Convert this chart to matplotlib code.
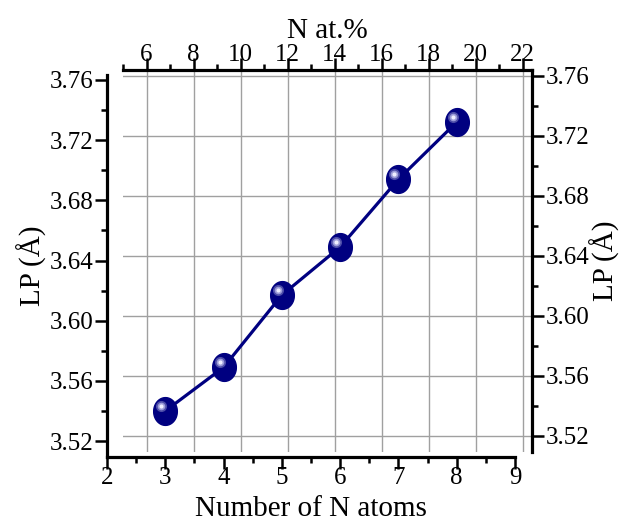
import numpy as np
import matplotlib
matplotlib.use('Agg')
import matplotlib.pyplot as plt
from matplotlib.path import Path
from matplotlib.ticker import MultipleLocator
from matplotlib.transforms import offset_copy

# data
n_atoms = [3, 4, 5, 6, 7, 8]
lp = [3.540, 3.569, 3.617, 3.649, 3.694, 3.732]
lp_ticks = [3.52, 3.56, 3.60, 3.64, 3.68, 3.72, 3.76]
at_ticks = [6, 8, 10, 12, 14, 16, 18, 20, 22]
n_ticks = [2, 3, 4, 5, 6, 7, 8, 9]

plt.rcParams['font.family'] = ['Liberation Serif', 'DejaVu Serif']
navy = '#000080'
W, H = 625, 523

fig = plt.figure(figsize=(6.25, 5.23), dpi=100)

def box(x0, y0, x1, y1):
    return [x0 / W, (H - y1) / H, (x1 - x0) / W, (y1 - y0) / H]

def style_ticks(ax):
    ax.tick_params(which='major', length=8.5, width=1.8, labelsize=18, direction='out')
    ax.tick_params(which='minor', length=4.5, width=1.8, direction='out')

# top / right frame (carries the grid)
axb = fig.add_axes(box(123, 70, 532, 452))
axb.set_xlim(5, 22.4)
axb.set_ylim(3.5093, 3.7640)
axb.xaxis.tick_top()
axb.yaxis.tick_right()
axb.xaxis.set_label_position('top')
axb.yaxis.set_label_position('right')
axb.set_xticks(at_ticks)
axb.xaxis.set_minor_locator(MultipleLocator(1))
axb.set_yticks(lp_ticks)
axb.set_yticklabels([f'{v:.2f}' for v in lp_ticks])
axb.yaxis.set_minor_locator(MultipleLocator(0.02))
for s in ['left', 'bottom']:
    axb.spines[s].set_visible(False)
for s in ['top', 'right']:
    axb.spines[s].set_linewidth(2.3)
style_ticks(axb)
axb.tick_params(axis='x', pad=-5.5)
axb.tick_params(axis='y', pad=1.5)
axb.grid(True, which='major', color='#a0a0a0', linewidth=1.0)
axb.set_xlabel('N at.%', fontsize=21, labelpad=4)
axb.set_ylabel('LP (Å)', fontsize=21, labelpad=0)

# bottom / left frame (carries the data)
axa = fig.add_axes(box(107, 75, 515, 457))
axa.patch.set_alpha(0)
axa.set_xlim(2, 9)
axa.set_ylim(3.5094, 3.7633)
axa.set_xticks(n_ticks)
axa.xaxis.set_minor_locator(MultipleLocator(0.5))
axa.set_yticks(lp_ticks)
axa.set_yticklabels([f'{v:.2f}' for v in lp_ticks])
axa.yaxis.set_minor_locator(MultipleLocator(0.02))
for s in ['right', 'top']:
    axa.spines[s].set_visible(False)
for s in ['left', 'bottom']:
    axa.spines[s].set_linewidth(2.3)
style_ticks(axa)
axa.tick_params(axis='x', pad=-1)
axa.tick_params(axis='y', pad=1)
axa.set_xlabel('Number of N atoms', fontsize=21, labelpad=5)
axa.set_ylabel('LP (Å)', fontsize=21, labelpad=2)

# slightly tall ellipse marker like the original balls
t = np.linspace(0, 2 * np.pi, 60)
ell = Path(np.column_stack([23 / 27 * np.cos(t), np.sin(t)]), closed=True)

axa.plot(n_atoms, lp, color=navy, linewidth=2.3, zorder=3)
axa.plot(n_atoms, lp, linestyle='none', marker=ell, markersize=20,
         markerfacecolor=navy, markeredgecolor=navy, zorder=4)
hl = offset_copy(axa.transData, fig=fig, x=-4, y=5, units='dots')
axa.plot(n_atoms, lp, linestyle='none', marker='o', markersize=8,
         markerfacecolor='#4c4ca8', markeredgewidth=0, transform=hl, zorder=5)
axa.plot(n_atoms, lp, linestyle='none', marker='o', markersize=5.5,
         markerfacecolor='#9c9cd8', markeredgewidth=0, transform=hl, zorder=6)
axa.plot(n_atoms, lp, linestyle='none', marker='o', markersize=3,
         markerfacecolor='#eeeeff', markeredgewidth=0, transform=hl, zorder=7)

fig.savefig('out.png', dpi=100)
